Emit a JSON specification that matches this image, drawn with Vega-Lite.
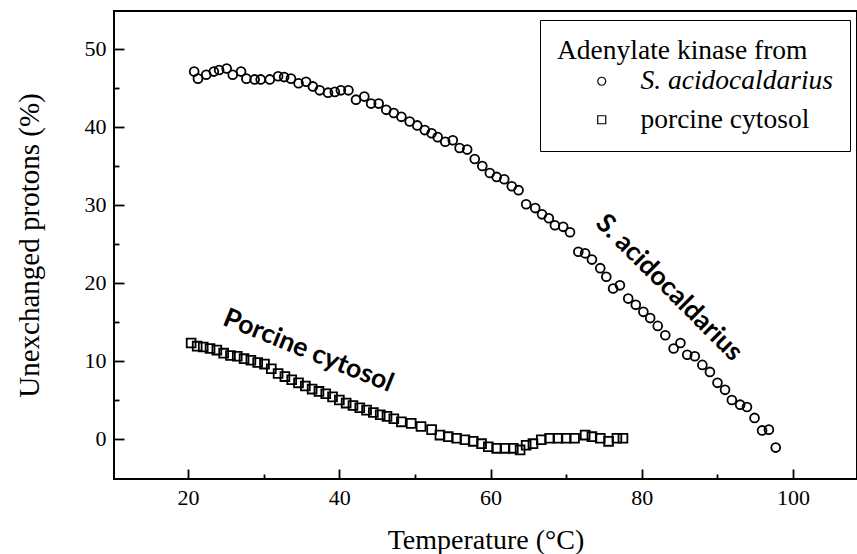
{
  "$schema": "https://vega.github.io/schema/vega-lite/v6.json",
  "width": 743,
  "height": 468,
  "autosize": "none",
  "padding": {"left": 114, "top": 11, "right": 0, "bottom": 75},
  "background": "white",
  "config": {"view": {"stroke": "black", "strokeWidth": 2}, "font": "Liberation Serif"},
  "layer": [
    {
      "data": {"values": [
        {"series": "S. acidocaldarius", "T": 20.8, "U": 47.1},
        {"series": "S. acidocaldarius", "T": 21.3, "U": 46.2},
        {"series": "S. acidocaldarius", "T": 22.4, "U": 46.7},
        {"series": "S. acidocaldarius", "T": 23.4, "U": 47.1},
        {"series": "S. acidocaldarius", "T": 24.1, "U": 47.3},
        {"series": "S. acidocaldarius", "T": 25.1, "U": 47.5},
        {"series": "S. acidocaldarius", "T": 25.9, "U": 46.7},
        {"series": "S. acidocaldarius", "T": 27.0, "U": 47.1},
        {"series": "S. acidocaldarius", "T": 27.7, "U": 46.2},
        {"series": "S. acidocaldarius", "T": 28.8, "U": 46.1},
        {"series": "S. acidocaldarius", "T": 29.6, "U": 46.1},
        {"series": "S. acidocaldarius", "T": 30.8, "U": 46.1},
        {"series": "S. acidocaldarius", "T": 31.9, "U": 46.5},
        {"series": "S. acidocaldarius", "T": 32.7, "U": 46.4},
        {"series": "S. acidocaldarius", "T": 33.6, "U": 46.2},
        {"series": "S. acidocaldarius", "T": 34.6, "U": 45.6},
        {"series": "S. acidocaldarius", "T": 35.6, "U": 45.8},
        {"series": "S. acidocaldarius", "T": 36.5, "U": 45.2},
        {"series": "S. acidocaldarius", "T": 37.4, "U": 44.7},
        {"series": "S. acidocaldarius", "T": 38.5, "U": 44.4},
        {"series": "S. acidocaldarius", "T": 39.4, "U": 44.5},
        {"series": "S. acidocaldarius", "T": 40.2, "U": 44.7},
        {"series": "S. acidocaldarius", "T": 41.2, "U": 44.7},
        {"series": "S. acidocaldarius", "T": 42.2, "U": 43.5},
        {"series": "S. acidocaldarius", "T": 43.3, "U": 43.9},
        {"series": "S. acidocaldarius", "T": 44.2, "U": 43.0},
        {"series": "S. acidocaldarius", "T": 45.2, "U": 43.0},
        {"series": "S. acidocaldarius", "T": 46.2, "U": 42.2},
        {"series": "S. acidocaldarius", "T": 47.2, "U": 41.8},
        {"series": "S. acidocaldarius", "T": 48.2, "U": 41.3},
        {"series": "S. acidocaldarius", "T": 49.3, "U": 40.7},
        {"series": "S. acidocaldarius", "T": 50.3, "U": 40.2},
        {"series": "S. acidocaldarius", "T": 51.3, "U": 39.6},
        {"series": "S. acidocaldarius", "T": 52.2, "U": 39.2},
        {"series": "S. acidocaldarius", "T": 53.0, "U": 38.7},
        {"series": "S. acidocaldarius", "T": 54.0, "U": 38.1},
        {"series": "S. acidocaldarius", "T": 55.0, "U": 38.3},
        {"series": "S. acidocaldarius", "T": 55.9, "U": 37.3},
        {"series": "S. acidocaldarius", "T": 56.9, "U": 37.1},
        {"series": "S. acidocaldarius", "T": 57.9, "U": 35.9},
        {"series": "S. acidocaldarius", "T": 58.9, "U": 35.0},
        {"series": "S. acidocaldarius", "T": 59.9, "U": 34.1},
        {"series": "S. acidocaldarius", "T": 60.8, "U": 33.6},
        {"series": "S. acidocaldarius", "T": 61.8, "U": 33.3},
        {"series": "S. acidocaldarius", "T": 62.8, "U": 32.4},
        {"series": "S. acidocaldarius", "T": 63.7, "U": 31.9},
        {"series": "S. acidocaldarius", "T": 64.7, "U": 30.1},
        {"series": "S. acidocaldarius", "T": 65.9, "U": 29.6},
        {"series": "S. acidocaldarius", "T": 66.8, "U": 28.8},
        {"series": "S. acidocaldarius", "T": 67.7, "U": 28.3},
        {"series": "S. acidocaldarius", "T": 68.5, "U": 27.4},
        {"series": "S. acidocaldarius", "T": 69.6, "U": 27.2},
        {"series": "S. acidocaldarius", "T": 70.5, "U": 26.5},
        {"series": "S. acidocaldarius", "T": 71.6, "U": 24.0},
        {"series": "S. acidocaldarius", "T": 72.5, "U": 23.8},
        {"series": "S. acidocaldarius", "T": 73.4, "U": 23.0},
        {"series": "S. acidocaldarius", "T": 74.5, "U": 21.9},
        {"series": "S. acidocaldarius", "T": 75.3, "U": 20.8},
        {"series": "S. acidocaldarius", "T": 76.2, "U": 19.3},
        {"series": "S. acidocaldarius", "T": 77.1, "U": 19.7},
        {"series": "S. acidocaldarius", "T": 78.2, "U": 18.0},
        {"series": "S. acidocaldarius", "T": 79.2, "U": 17.2},
        {"series": "S. acidocaldarius", "T": 80.2, "U": 16.3},
        {"series": "S. acidocaldarius", "T": 81.1, "U": 15.5},
        {"series": "S. acidocaldarius", "T": 82.1, "U": 14.5},
        {"series": "S. acidocaldarius", "T": 83.1, "U": 13.3},
        {"series": "S. acidocaldarius", "T": 84.2, "U": 11.6},
        {"series": "S. acidocaldarius", "T": 85.1, "U": 12.3},
        {"series": "S. acidocaldarius", "T": 86.0, "U": 10.8},
        {"series": "S. acidocaldarius", "T": 87.0, "U": 10.6},
        {"series": "S. acidocaldarius", "T": 88.0, "U": 9.5},
        {"series": "S. acidocaldarius", "T": 89.0, "U": 8.6},
        {"series": "S. acidocaldarius", "T": 90.0, "U": 7.2},
        {"series": "S. acidocaldarius", "T": 91.0, "U": 6.3},
        {"series": "S. acidocaldarius", "T": 91.9, "U": 5.0},
        {"series": "S. acidocaldarius", "T": 93.0, "U": 4.4},
        {"series": "S. acidocaldarius", "T": 93.9, "U": 4.1},
        {"series": "S. acidocaldarius", "T": 94.9, "U": 2.7},
        {"series": "S. acidocaldarius", "T": 95.9, "U": 1.1},
        {"series": "S. acidocaldarius", "T": 96.8, "U": 1.2},
        {"series": "S. acidocaldarius", "T": 97.7, "U": -1.1},
        {"series": "porcine cytosol", "T": 20.4, "U": 12.3},
        {"series": "porcine cytosol", "T": 21.2, "U": 11.9},
        {"series": "porcine cytosol", "T": 22.0, "U": 11.8},
        {"series": "porcine cytosol", "T": 22.9, "U": 11.6},
        {"series": "porcine cytosol", "T": 23.8, "U": 11.4},
        {"series": "porcine cytosol", "T": 24.7, "U": 11.0},
        {"series": "porcine cytosol", "T": 25.6, "U": 10.7},
        {"series": "porcine cytosol", "T": 26.5, "U": 10.6},
        {"series": "porcine cytosol", "T": 27.4, "U": 10.3},
        {"series": "porcine cytosol", "T": 28.3, "U": 10.1},
        {"series": "porcine cytosol", "T": 29.2, "U": 9.8},
        {"series": "porcine cytosol", "T": 30.1, "U": 9.6},
        {"series": "porcine cytosol", "T": 31.0, "U": 9.0},
        {"series": "porcine cytosol", "T": 31.9, "U": 8.4},
        {"series": "porcine cytosol", "T": 32.8, "U": 8.0},
        {"series": "porcine cytosol", "T": 33.7, "U": 7.6},
        {"series": "porcine cytosol", "T": 34.6, "U": 7.2},
        {"series": "porcine cytosol", "T": 35.5, "U": 6.8},
        {"series": "porcine cytosol", "T": 36.4, "U": 6.4},
        {"series": "porcine cytosol", "T": 37.3, "U": 6.1},
        {"series": "porcine cytosol", "T": 38.2, "U": 5.8},
        {"series": "porcine cytosol", "T": 39.1, "U": 5.4},
        {"series": "porcine cytosol", "T": 40.0, "U": 5.0},
        {"series": "porcine cytosol", "T": 40.9, "U": 4.6},
        {"series": "porcine cytosol", "T": 41.8, "U": 4.3},
        {"series": "porcine cytosol", "T": 42.7, "U": 4.0},
        {"series": "porcine cytosol", "T": 43.6, "U": 3.7},
        {"series": "porcine cytosol", "T": 44.5, "U": 3.4},
        {"series": "porcine cytosol", "T": 45.4, "U": 3.1},
        {"series": "porcine cytosol", "T": 46.3, "U": 2.9},
        {"series": "porcine cytosol", "T": 47.2, "U": 2.6},
        {"series": "porcine cytosol", "T": 48.2, "U": 2.2},
        {"series": "porcine cytosol", "T": 49.5, "U": 2.0},
        {"series": "porcine cytosol", "T": 50.8, "U": 1.6},
        {"series": "porcine cytosol", "T": 52.2, "U": 1.2},
        {"series": "porcine cytosol", "T": 53.3, "U": 0.5},
        {"series": "porcine cytosol", "T": 54.4, "U": 0.3},
        {"series": "porcine cytosol", "T": 55.5, "U": 0.1},
        {"series": "porcine cytosol", "T": 56.6, "U": -0.1},
        {"series": "porcine cytosol", "T": 57.7, "U": -0.3},
        {"series": "porcine cytosol", "T": 58.8, "U": -0.6},
        {"series": "porcine cytosol", "T": 59.7, "U": -1.0},
        {"series": "porcine cytosol", "T": 60.8, "U": -1.2},
        {"series": "porcine cytosol", "T": 61.9, "U": -1.2},
        {"series": "porcine cytosol", "T": 63.0, "U": -1.2},
        {"series": "porcine cytosol", "T": 63.9, "U": -1.4},
        {"series": "porcine cytosol", "T": 64.7, "U": -0.8},
        {"series": "porcine cytosol", "T": 65.6, "U": -0.6},
        {"series": "porcine cytosol", "T": 66.7, "U": -0.1},
        {"series": "porcine cytosol", "T": 67.8, "U": 0.1},
        {"series": "porcine cytosol", "T": 68.9, "U": 0.1},
        {"series": "porcine cytosol", "T": 70.0, "U": 0.1},
        {"series": "porcine cytosol", "T": 71.1, "U": 0.1},
        {"series": "porcine cytosol", "T": 72.5, "U": 0.5},
        {"series": "porcine cytosol", "T": 73.4, "U": 0.3},
        {"series": "porcine cytosol", "T": 74.5, "U": 0.1},
        {"series": "porcine cytosol", "T": 75.6, "U": -0.3},
        {"series": "porcine cytosol", "T": 76.7, "U": 0.1},
        {"series": "porcine cytosol", "T": 77.5, "U": 0.1}
      ]},
      "mark": {"type": "point", "filled": false, "size": 78, "strokeWidth": 1.8, "opacity": 1},
      "encoding": {
        "x": {"field": "T", "type": "quantitative", "scale": {"domain": [10.2, 108.45], "nice": false, "zero": false},
          "axis": {"orient": "bottom", "values": [20, 40, 60, 80, 100], "title": "Temperature (°C)", "domain": false, "grid": false,
            "offset": -10, "tickSize": 10, "tickWidth": 1.8, "tickColor": "black", "labelFont": "Liberation Serif", "labelFontSize": 22,
            "labelColor": "black", "labelPadding": 8, "titleFont": "Liberation Serif", "titleFontSize": 28,
            "titleFontWeight": "normal", "titleColor": "black", "titlePadding": 18}},
        "y": {"field": "U", "type": "quantitative", "scale": {"domain": [-5.13, 54.87], "nice": false, "zero": false},
          "axis": {"orient": "left", "values": [0, 10, 20, 30, 40, 50], "title": "Unexchanged protons (%)", "domain": false, "grid": false,
            "offset": -10, "tickSize": 10, "tickWidth": 1.8, "tickColor": "black", "labelFont": "Liberation Serif", "labelFontSize": 22,
            "labelColor": "black", "labelPadding": 8, "titleFont": "Liberation Serif", "titleFontSize": 29,
            "titleFontWeight": "normal", "titleColor": "black", "titlePadding": 40}},
        "shape": {"field": "series", "type": "nominal",
          "scale": {"domain": ["S. acidocaldarius", "porcine cytosol"], "range": ["circle", "square"]}, "legend": null},
        "color": {"field": "series", "type": "nominal",
          "scale": {"domain": ["S. acidocaldarius", "porcine cytosol"], "range": ["black", "black"]},
          "legend": {"orient": "none", "legendX": 426, "legendY": 9, "title": "Adenylate kinase from",
            "titleFont": "Liberation Serif", "titleFontSize": 27.5, "titleFontWeight": "normal", "titleColor": "black", "titlePadding": 3,
            "labelFont": "Liberation Serif", "labelFontSize": 27.5, "labelColor": "black", "labelOffset": 25, "labelLimit": 400, "titleLimit": 400,
            "labelFontStyle": {"expr": "datum.value === 'S. acidocaldarius' ? 'italic' : 'normal'"},
            "symbolType": {"expr": "datum.value === 'S. acidocaldarius' ? 'M-9.25,0H-0.85M0.85,0H9.25M-0.85,0A0.85,0.85 0 1,0 0.85,0A0.85,0.85 0 1,0 -0.85,0' : 'M-9.25,0H-0.85M0.85,0H9.25M-0.85,-0.85H0.85V0.85H-0.85Z'"},
            "symbolOffset": 31, "symbolSize": 64, "symbolStrokeWidth": 1.2, "symbolStrokeColor": "black", "symbolFillColor": "white",
            "padding": 17, "strokeColor": "black", "fillColor": "white", "rowPadding": 9.5}}
      }
    },
    {
      "data": {"values": [{"T": 83.6, "U": 19.4, "label": "S. acidocaldarius"}]},
      "mark": {"type": "text", "angle": 45, "font": "Lato", "fontWeight": "bold", "fontSize": 26.5, "align": "center", "baseline": "middle", "color": "black"},
      "encoding": {
        "x": {"field": "T", "type": "quantitative", "scale": {"domain": [10.2, 108.45], "nice": false, "zero": false},
          "axis": {"orient": "bottom", "values": [30, 50, 70, 90], "labels": false, "domain": false, "grid": false, "offset": -5, "tickSize": 5, "tickWidth": 1.8, "tickColor": "black", "title": null}},
        "y": {"field": "U", "type": "quantitative", "scale": {"domain": [-5.13, 54.87], "nice": false, "zero": false},
          "axis": {"orient": "left", "values": [5, 15, 25, 35, 45], "labels": false, "domain": false, "grid": false, "offset": -5, "tickSize": 5, "tickWidth": 1.8, "tickColor": "black", "title": null}},
        "text": {"field": "label"}
      }
    },
    {
      "data": {"values": [{"T": 35.9, "U": 11.3, "label": "Porcine cytosol"}]},
      "mark": {"type": "text", "angle": 22, "font": "Lato", "fontWeight": "bold", "fontSize": 26.5, "align": "center", "baseline": "middle", "color": "black"},
      "encoding": {
        "x": {"field": "T", "type": "quantitative", "scale": {"domain": [10.2, 108.45], "nice": false, "zero": false}, "axis": null},
        "y": {"field": "U", "type": "quantitative", "scale": {"domain": [-5.13, 54.87], "nice": false, "zero": false}, "axis": null},
        "text": {"field": "label"}
      }
    }
  ],
  "resolve": {"axis": {"x": "independent", "y": "independent"}}
}
